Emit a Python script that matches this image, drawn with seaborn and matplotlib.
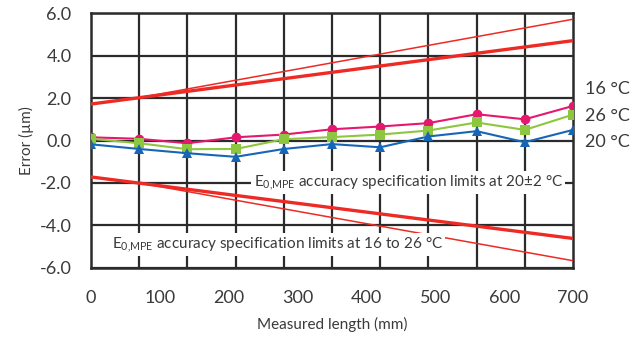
import numpy as np
import pandas as pd
import matplotlib
matplotlib.use("Agg")
import matplotlib.pyplot as plt
import seaborn as sns

# ---- data ----
length_mm = [0, 70, 140, 210, 280, 350, 420, 490, 560, 630, 700]
err_16c = [0.15, 0.08, -0.13, 0.15, 0.28, 0.53, 0.66, 0.82, 1.24, 1.00, 1.63]
err_26c = [0.08, -0.13, -0.41, -0.40, 0.06, 0.16, 0.28, 0.47, 0.85, 0.50, 1.22]
err_20c = [-0.18, -0.40, -0.60, -0.77, -0.40, -0.17, -0.32, 0.19, 0.44, -0.08, 0.50]
series_names = ["16 °C", "26 °C", "20 °C"]
series_colors = ["#E5176E", "#8DC63F", "#1666B8"]
series_markers = ["o", "s", "^"]

spec20_x = [0, 700]
spec20_upper = [1.72, 4.71]
spec20_lower = [-1.72, -4.62]
spec16_26_x = [70, 700]
spec16_26_upper = [2.02, 5.72]
spec16_26_lower = [-2.00, -5.67]

xtick_vals = [0, 100, 200, 300, 400, 500, 600, 700]
ytick_vals = [-6, -4, -2, 0, 2, 4, 6]
ytick_labels = ["-6.0", "-4.0", "-2.0", "0.0", "2.0", "4.0", "6.0"]

# ---- style ----
sns.set_theme(style="white")
plt.rcParams["font.family"] = ["Lato", "DejaVu Sans"]
plt.rcParams["mathtext.fontset"] = "custom"
plt.rcParams["mathtext.rm"] = "Lato"

text_color = "#3a3a3a"
grid_color = "#2b2b2b"

fig = plt.figure(figsize=(6.36, 3.38), dpi=100)
ax = fig.add_axes([91 / 636, 1 - 267.7 / 338, (573 - 91) / 636, (267.7 - 13.3) / 338])

df = pd.DataFrame({
    "length": length_mm * 3,
    "error": err_16c + err_26c + err_20c,
    "series": [series_names[0]] * 11 + [series_names[1]] * 11 + [series_names[2]] * 11,
})

red = "#EE2A24"
sns.lineplot(x=spec20_x, y=spec20_upper, ax=ax, color=red, lw=2.4, zorder=3)
sns.lineplot(x=spec20_x, y=spec20_lower, ax=ax, color=red, lw=2.4, zorder=3)
sns.lineplot(x=spec16_26_x, y=spec16_26_upper, ax=ax, color=red, lw=1.1, zorder=3)
sns.lineplot(x=spec16_26_x, y=spec16_26_lower, ax=ax, color=red, lw=1.1, zorder=3)

sns.lineplot(data=df, x="length", y="error", hue="series", style="series",
             hue_order=series_names, style_order=series_names,
             palette=series_colors, markers=series_markers, dashes=False,
             markersize=7, markeredgewidth=0, lw=1.5, ax=ax, legend=False, zorder=4)

ax.set_xlim(0, 700)
ax.set_ylim(-6, 6)
ax.set_xticks(xtick_vals)
ax.set_xticklabels([str(v) for v in xtick_vals])
ax.set_xticks(length_mm, minor=True)
ax.set_yticks(ytick_vals)
ax.set_yticklabels(ytick_labels)
ax.tick_params(axis="both", which="both", length=0, labelsize=13, colors=text_color, pad=14)
ax.tick_params(axis="x", pad=16)
ax.grid(False)
ax.grid(True, which="minor", axis="x", color=grid_color, lw=1.6)
ax.grid(True, which="major", axis="y", color=grid_color, lw=1.6)
ax.set_axisbelow(True)
for s in ax.spines.values():
    s.set_visible(True)
    s.set_color(grid_color)
    s.set_linewidth(1.8)

ax.set_xlabel("Measured length (mm)", fontsize=11, color=text_color, labelpad=8)
ax.set_ylabel("Error (µm)", fontsize=11, color=text_color, labelpad=4)

sub = r"E$_{\mathregular{0{,}MPE}}$"
ax.text(236, -2.0, sub + " accuracy specification limits at 20±2 °C", fontsize=11.0,
        color=text_color, ha="left", va="center", zorder=5,
        bbox=dict(facecolor="white", edgecolor="none", pad=1.5))
ax.text(30, -4.92, sub + " accuracy specification limits at 16 to 26 °C", fontsize=11.0,
        color=text_color, ha="left", va="center", zorder=5,
        bbox=dict(facecolor="white", edgecolor="none", pad=1.5))

for name, yv in zip(series_names, [2.43, 1.16, -0.07]):
    ax.text(1.025, yv, name, transform=ax.get_yaxis_transform(), fontsize=13,
            color=text_color, ha="left", va="center", clip_on=False)

fig.savefig("out.png", dpi=100)
